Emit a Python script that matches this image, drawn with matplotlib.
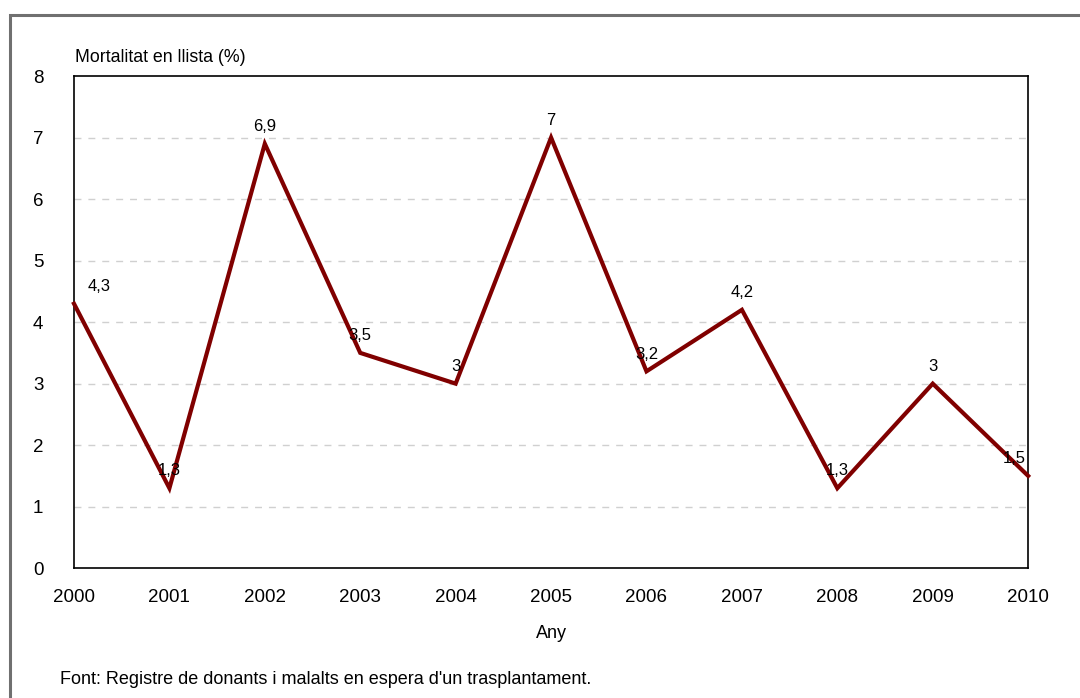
import matplotlib
matplotlib.use("Agg")
import matplotlib.pyplot as plt
from matplotlib.patches import Rectangle

# Dades: mortalitat en llista d'espera (%)
anys = [2000, 2001, 2002, 2003, 2004, 2005, 2006, 2007, 2008, 2009, 2010]
mortalitat = [4.3, 1.3, 6.9, 3.5, 3.0, 7.0, 3.2, 4.2, 1.3, 3.0, 1.5]
etiquetes = ["4,3", "1,3", "6,9", "3,5", "3", "7", "3,2", "4,2", "1,3", "3", "1,5"]

plt.rcParams["font.family"] = ["Liberation Sans", "DejaVu Sans"]

fig = plt.figure(figsize=(10.8, 6.98), dpi=100)
ax = fig.add_axes([0.0685, 0.186, 0.8835, 0.705])

# marc exterior gris
fig.patches.append(Rectangle((10 / 1080, -0.05), 1.2, 1 - 15 / 698 + 0.05,
                             transform=fig.transFigure, fill=False,
                             edgecolor="#707070", linewidth=2.2))

ax.plot(anys, mortalitat, color="#800000", linewidth=3, solid_joinstyle="miter", zorder=3, clip_on=False)

for i, (x, y) in enumerate(zip(anys, mortalitat)):
    dx = 0
    if i == 0:
        dx = 18
    elif i == len(anys) - 1:
        dx = -10
    ax.annotate(etiquetes[i], (x, y), xytext=(dx, 7), textcoords="offset points",
                ha="center", va="bottom", fontsize=12, zorder=4)

ax.set_xlim(2000, 2010)
ax.set_ylim(0, 8)
ax.set_xticks(anys)
ax.set_yticks(range(0, 9))
ax.tick_params(axis="both", length=0, labelsize=13.5)
ax.tick_params(axis="x", pad=15)
ax.tick_params(axis="y", pad=22)

for yv in range(1, 8):
    ax.axhline(yv, color="#d0d0d0", linestyle=(0, (5, 5)), linewidth=1, zorder=1)

for s in ax.spines.values():
    s.set_color("black")
    s.set_linewidth(1.2)

ax.set_xlabel("Any", fontsize=13, labelpad=14)
fig.text(75 / 1080, 1 - 57 / 698, "Mortalitat en llista (%)", fontsize=12.8, va="center", ha="left")
fig.text(60 / 1080, 1 - 680 / 698, "Font: Registre de donants i malalts en espera d'un trasplantament.",
         fontsize=13, va="center", ha="left")

fig.savefig("out.png", dpi=100)
